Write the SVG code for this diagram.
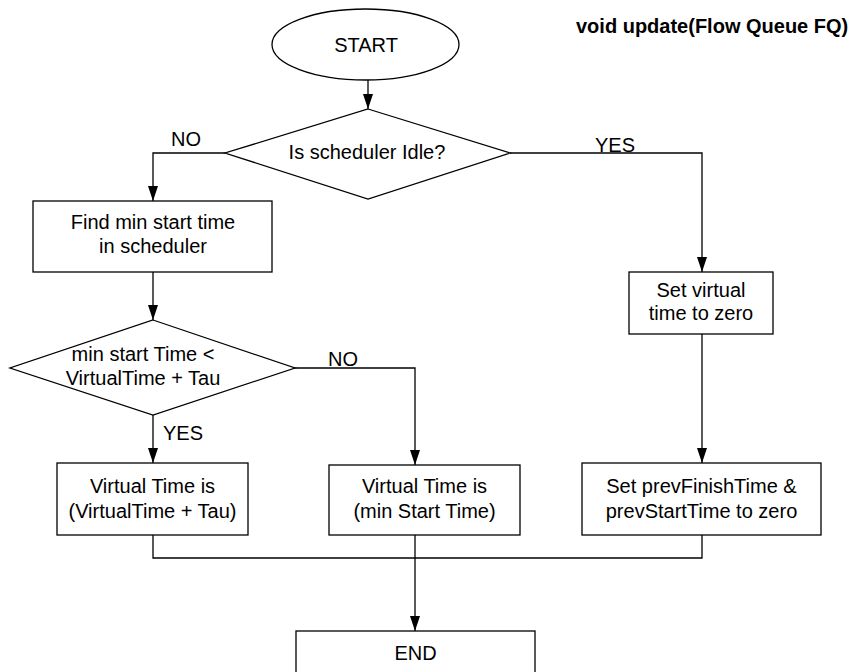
<svg xmlns="http://www.w3.org/2000/svg" width="853" height="672" viewBox="0 0 853 672">
  <style>
    .shape { fill: #ffffff; stroke: #000000; stroke-width: 1.3; }
    .wire { fill: none; stroke: #000000; stroke-width: 1.3; }
    .label { font-family: "Liberation Sans", Arial, sans-serif; font-size: 20px; fill: #000000; text-anchor: middle; }
    .tag { font-family: "Liberation Sans", Arial, sans-serif; font-size: 20px; fill: #000000; }
    .title { font-family: "Liberation Sans", Arial, sans-serif; font-size: 20px; font-weight: bold; fill: #000000; }
  </style>
  <defs>
    <marker id="arrow" markerUnits="userSpaceOnUse" markerWidth="15" markerHeight="10" refX="15" refY="5" orient="auto">
      <path d="M0,0 L15,5 L0,10 Z" fill="#000000"/>
    </marker>
  </defs>
  <rect width="853" height="672" fill="#ffffff"/>

  <text class="title" x="576" y="33">void update(Flow Queue FQ)</text>

  <!-- connectors -->
  <g id="connectors">
    <path class="wire" d="M368,80 L368,109" marker-end="url(#arrow)"/>
    <path class="wire" d="M225,153 L153,153 L153,201" marker-end="url(#arrow)"/>
    <path class="wire" d="M510,153 L702,153 L702,272" marker-end="url(#arrow)"/>
    <path class="wire" d="M153,272 L153,320" marker-end="url(#arrow)"/>
    <path class="wire" d="M153,415 L153,463" marker-end="url(#arrow)"/>
    <path class="wire" d="M295,368 L415,368 L415,465" marker-end="url(#arrow)"/>
    <path class="wire" d="M702,334 L702,463" marker-end="url(#arrow)"/>
    <path class="wire" d="M153,535 L153,558 L702,558 L702,535"/>
    <path class="wire" d="M415,535 L415,631" marker-end="url(#arrow)"/>
    <text class="tag" x="171" y="146">NO</text>
    <text class="tag" x="595" y="152">YES</text>
    <text class="tag" x="328" y="366">NO</text>
    <text class="tag" x="163" y="440">YES</text>
  </g>

  <g id="start">
    <ellipse class="shape" cx="365.5" cy="44.5" rx="93.5" ry="35.5"/>
    <text class="label" x="366" y="52">START</text>
  </g>

  <g id="idle-check">
    <polygon class="shape" points="368,109 510,153 368,199 225,153"/>
    <text class="label" x="367" y="159">Is scheduler Idle?</text>
  </g>

  <g id="find-min">
    <rect class="shape" x="33" y="201" width="239" height="71"/>
    <text class="label" x="153" y="229">Find min start time</text>
    <text class="label" x="153" y="253">in scheduler</text>
  </g>

  <g id="tau-check">
    <polygon class="shape" points="153,320 295,368 153,415 10,368"/>
    <text class="label" x="143" y="361">min start Time &lt;</text>
    <text class="label" x="143" y="385">VirtualTime + Tau</text>
  </g>

  <g id="zero-virtual">
    <rect class="shape" x="629" y="272" width="144" height="62"/>
    <text class="label" x="701" y="297">Set virtual</text>
    <text class="label" x="701" y="320">time to zero</text>
  </g>

  <g id="vt-plus-tau">
    <rect class="shape" x="57" y="463" width="191" height="72"/>
    <text class="label" x="152.5" y="493">Virtual Time is</text>
    <text class="label" x="152.5" y="518">(VirtualTime + Tau)</text>
  </g>

  <g id="vt-min-start">
    <rect class="shape" x="329" y="465" width="191" height="70"/>
    <text class="label" x="424.5" y="493">Virtual Time is</text>
    <text class="label" x="424.5" y="518">(min Start Time)</text>
  </g>

  <g id="reset-prev">
    <rect class="shape" x="582" y="463" width="239" height="72"/>
    <text class="label" x="701.5" y="493">Set prevFinishTime &amp;</text>
    <text class="label" x="701.5" y="518">prevStartTime to zero</text>
  </g>

  <g id="end">
    <rect class="shape" x="296" y="631" width="239" height="50"/>
    <text class="label" x="415.5" y="660">END</text>
  </g>
</svg>
